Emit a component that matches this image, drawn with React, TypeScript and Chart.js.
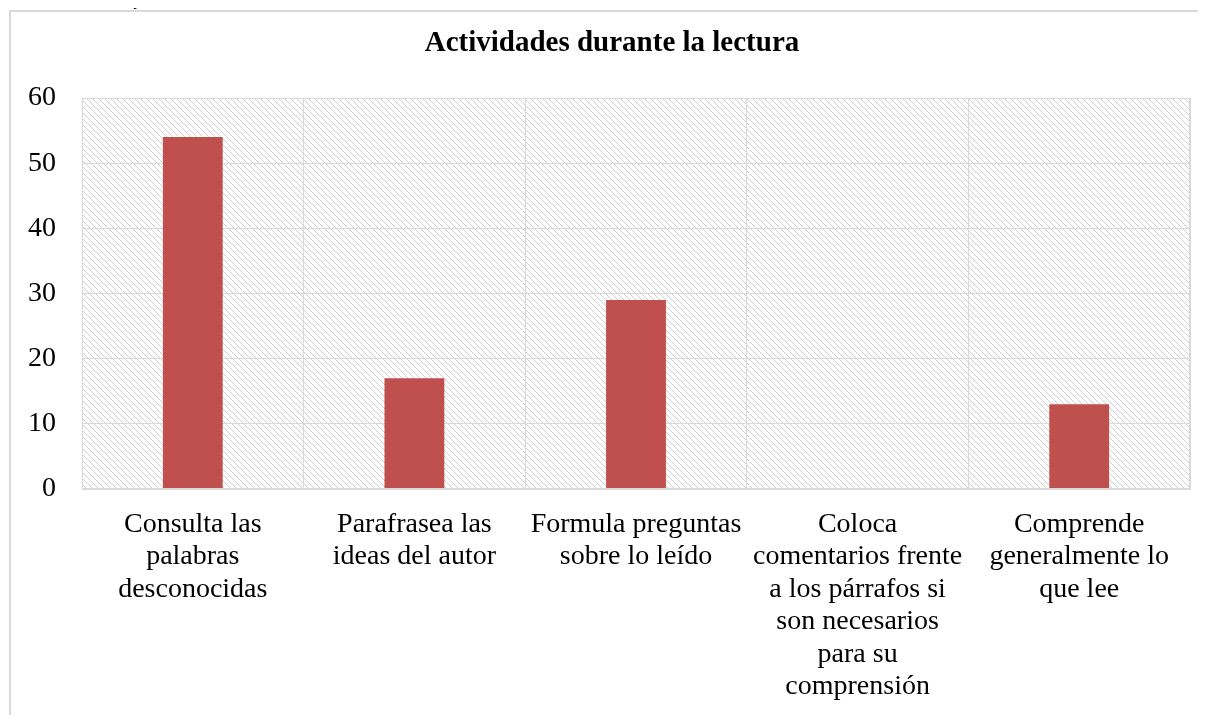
import React, { useEffect, useRef } from "react";
import { Chart, registerables } from "chart.js";

Chart.register(...registerables);

const categories: string[][] = [
  ["Consulta las", "palabras", "desconocidas"],
  ["Parafrasea las", "ideas del autor"],
  ["Formula preguntas", "sobre lo leído"],
  ["Coloca", "comentarios frente", "a los párrafos si", "son necesarios", "para su", "comprensión"],
  ["Comprende", "generalmente lo", "que lee"],
];
const values: number[] = [54, 17, 29, 0, 13];
const yTicks: number[] = [0, 10, 20, 30, 40, 50, 60];
const chartTitle = "Actividades durante la lectura";
const captionText = "Actividades que realiza durante la lectura";

const FONT = "'Liberation Serif', 'Times New Roman', serif";

function makePattern(ctx: CanvasRenderingContext2D): CanvasPattern | string {
  const c = document.createElement("canvas");
  c.width = 6;
  c.height = 6;
  const p = c.getContext("2d");
  if (!p) return "#eee";
  p.fillStyle = "#ffffff";
  p.fillRect(0, 0, 6, 6);
  p.fillStyle = "rgb(208,208,208)";
  for (let y = 0; y < 6; y++) {
    for (let x = 0; x < 6; x++) {
      const d = (x - y + 12) % 6;
      if (d === 0) p.fillRect(x, y, 1, 1);
    }
  }
  return ctx.createPattern(c, "repeat") || "#eee";
}

const framePlugin = {
  id: "framePlugin",
  beforeDraw(chart: any) {
    const { ctx, chartArea } = chart;
    ctx.save();
    ctx.fillStyle = "#ffffff";
    ctx.fillRect(0, 0, chart.width, chart.height);
    ctx.strokeStyle = "#d9d9d9";
    ctx.lineWidth = 2;
    ctx.beginPath();
    ctx.moveTo(10, chart.height + 2);
    ctx.lineTo(10, 11);
    ctx.lineTo(chart.width + 2, 11);
    ctx.stroke();
    ctx.fillStyle = makePattern(ctx);
    ctx.fillRect(chartArea.left, chartArea.top, chartArea.right - chartArea.left, chartArea.bottom - chartArea.top);
    ctx.restore();
  },
  afterDraw(chart: any) {
    const { ctx, chartArea } = chart;
    ctx.save();
    ctx.strokeStyle = "#d9d9d9";
    ctx.lineWidth = 1;
    ctx.strokeRect(chartArea.left + 0.5, chartArea.top + 0.5, chartArea.right - chartArea.left - 1, chartArea.bottom - chartArea.top - 1);
    ctx.fillStyle = "#000000";
    ctx.font = `bold 29px ${FONT}`;
    ctx.textAlign = "center";
    ctx.textBaseline = "alphabetic";
    ctx.fillText(chartTitle, 612, 51);
    // caption above the frame, mostly cut off at the top edge
    ctx.font = `italic 20px ${FONT}`;
    ctx.textAlign = "left";
    ctx.fillText(captionText, 30, 4);
    ctx.restore();
  },
};

export default function App() {
  const ref = useRef<HTMLCanvasElement | null>(null);

  useEffect(() => {
    if (!ref.current) return;
    const chart = new Chart(ref.current, {
      type: "bar",
      data: {
        labels: categories,
        datasets: [
          {
            data: values,
            backgroundColor: "#c0504d",
            borderWidth: 0,
            barPercentage: 0.27,
            categoryPercentage: 1,
          },
        ],
      },
      options: {
        responsive: false,
        animation: false,
        layout: { padding: { left: 10, right: 16, top: 98, bottom: 0 } },
        plugins: {
          legend: { display: false },
          tooltip: { enabled: false },
          title: { display: false },
        },
        scales: {
          x: {
            grid: { color: "#d9d9d9", drawTicks: false, offset: true },
            border: { color: "#d9d9d9" },
            ticks: {
              color: "#000000",
              font: { family: FONT, size: 28, lineHeight: 1.16 },
              padding: 19,
              maxRotation: 0,
              autoSkip: false,
            },
            afterFit(scale: any) {
              scale.height = 715 - 489;
            },
          },
          y: {
            min: 0,
            max: 60,
            afterBuildTicks(scale: any) {
              scale.ticks = yTicks.map((v) => ({ value: v }));
            },
            grid: { color: "#d9d9d9", drawTicks: false },
            border: { color: "#d9d9d9" },
            ticks: {
              color: "#000000",
              font: { family: FONT, size: 28 },
              padding: 26,
            },
            afterFit(scale: any) {
              scale.width = 72;
            },
          },
        },
      },
      plugins: [framePlugin],
    });
    return () => chart.destroy();
  }, []);

  return (
    <div style={{ position: "relative", width: 1206, height: 715, margin: "-8px 0 0 -8px", overflow: "hidden" }}>
      <canvas ref={ref} width={1206} height={715} style={{ display: "block", width: 1206, height: 715 }} />
    </div>
  );
}
